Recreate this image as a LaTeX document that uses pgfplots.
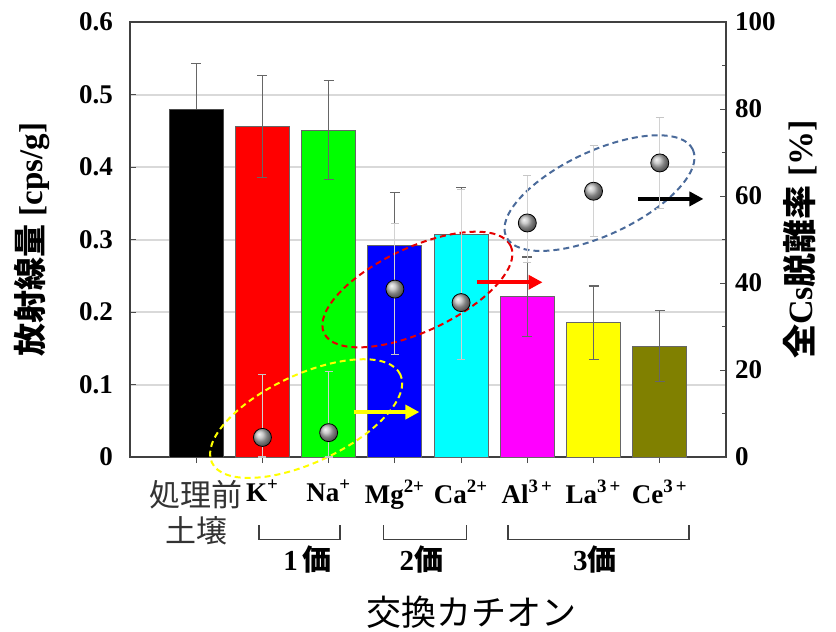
\documentclass[border=0pt]{standalone}
\usepackage{pgfplots}
\pgfplotsset{compat=1.18}
\usetikzlibrary{arrows.meta}
\usepackage{fontspec}
\setmainfont{Liberation Serif}
\newfontfamily\cjk{Noto Sans CJK JP}
\definecolor{olivebar}{HTML}{808000}
\definecolor{ellblue}{HTML}{4A6A9A}
\definecolor{pred}{HTML}{FF0000}
\definecolor{pgreen}{HTML}{00FF00}
\definecolor{pblue}{HTML}{0000FF}
\definecolor{pcyan}{HTML}{00FFFF}
\definecolor{pmagenta}{HTML}{FF00FF}
\definecolor{pyellow}{HTML}{FFFF00}
\begin{document}
\begin{tikzpicture}
\pgfplotsset{
  base/.style={width=298pt, height=217.5pt, scale only axis, xmin=-1, xmax=8, clip=false,
    /pgf/number format/assume math mode=true,
    ticklabel style={font=\bfseries\fontsize{13.5}{15}\selectfont},
    major tick length=3pt, minor tick length=2pt,
    tick style={black!70, line width=0.5pt},
  },
}
\begin{axis}[base, ymin=0, ymax=0.6, ytick={0,0.1,0.2,0.3,0.4,0.5,0.6},
  yticklabels={0,0.1,0.2,0.3,0.4,0.5,0.6},
  xtick pos=bottom, ytick pos=left,
  ymajorgrids, grid style={gray!30, line width=1pt},
  axis line style={black!75, line width=0.8pt},
  xtick={0,...,7},
  xticklabels={{\cjk\mdseries\color{black!80}\fontsize{15.5}{19}\selectfont\shortstack{処理前\\[1pt]土壌}},
    K\textsuperscript{+}, Na\textsuperscript{+}, Mg\textsuperscript{2+}, Ca\textsuperscript{2+},
    Al\textsuperscript{3\,+}, La\textsuperscript{3\,+}, Ce\textsuperscript{3\,+}},
  xticklabel style={anchor=north, yshift=-5pt, font=\bfseries\fontsize{13.5}{15}\selectfont},
  yticklabel style={xshift=-5pt},
  ybar, bar width=27pt, /pgf/bar shift=0pt,
  error bars/y explicit,
  error bars/error bar style={black!60, line width=0.6pt},
  error bars/error mark options={rotate=90, black!60, mark size=2.5pt, line width=0.6pt},
]
\addplot[fill=black, draw=black!70, error bars/y dir=plus] coordinates {(0,0.480) +- (0,0.063)};
\addplot[fill=pred, draw=black!60, error bars/y dir=both] coordinates {(1,0.456) +- (0,0.070)};
\addplot[fill=pgreen, draw=black!60, error bars/y dir=both] coordinates {(2,0.451) +- (0,0.068)};
\addplot[fill=pblue, draw=black!60, error bars/y dir=plus] coordinates {(3,0.292) +- (0,0.073)};
\addplot[fill=pcyan, draw=black!60, error bars/y dir=plus] coordinates {(4,0.307) +- (0,0.065)};
\addplot[fill=pmagenta, draw=black!60, error bars/y dir=both] coordinates {(5,0.221) +- (0,0.055)};
\addplot[fill=pyellow, draw=black!60, error bars/y dir=both] coordinates {(6,0.185) +- (0,0.051)};
\addplot[fill=olivebar, draw=black!60, error bars/y dir=both] coordinates {(7,0.153) +- (0,0.049)};
% brackets
\draw[black!75, line width=0.8pt] (axis cs:0.95,-0.094) -- (axis cs:0.95,-0.114) -- (axis cs:2.17,-0.114) -- (axis cs:2.17,-0.094);
\draw[black!75, line width=0.8pt] (axis cs:2.83,-0.094) -- (axis cs:2.83,-0.114) -- (axis cs:4.08,-0.114) -- (axis cs:4.08,-0.094);
\draw[black!75, line width=0.8pt] (axis cs:4.71,-0.094) -- (axis cs:4.71,-0.114) -- (axis cs:7.44,-0.114) -- (axis cs:7.44,-0.094);
\node[font=\bfseries\fontsize{14.5}{16}\selectfont] at (axis cs:1.68,-0.142) {1\,{\cjk 価}};
\node[font=\bfseries\fontsize{14.5}{16}\selectfont] at (axis cs:3.40,-0.142) {2{\cjk 価}};
\node[font=\bfseries\fontsize{14.5}{16}\selectfont] at (axis cs:6.02,-0.142) {3{\cjk 価}};
\node[font=\cjk\fontsize{17.5}{19}\selectfont] at (axis cs:4.15,-0.214) {交換カチオン};
% y labels
\node[rotate=90, font=\bfseries\fontsize{16.5}{18}\selectfont] at (axis cs:-2.48,0.3) {{\cjk 放射線量} [cps/g]};
\node[rotate=90, font=\bfseries\fontsize{17}{19}\selectfont] at (axis cs:9.12,0.30) {{\cjk 全}Cs{\cjk 脱離率} [\%]};
% ellipses
\draw[pyellow, densely dashed, line width=1pt, rotate around={25:(axis cs:1.66,0.053)}] (axis cs:1.66,0.053) ellipse [x radius=52pt, y radius=22pt];
\draw[red!90!black, densely dashed, line width=1pt, rotate around={25:(axis cs:3.34,0.231)}] (axis cs:3.34,0.231) ellipse [x radius=51.5pt, y radius=21pt];
\draw[ellblue, densely dashed, line width=1pt, rotate around={25:(axis cs:6.09,0.364)}] (axis cs:6.09,0.364) ellipse [x radius=51.5pt, y radius=21pt];
% arrows
\draw[-{Triangle[length=7pt,width=7pt]}, line width=2pt, pyellow] (axis cs:2.38,0.062) -- (axis cs:3.37,0.062);
\draw[-{Triangle[length=7pt,width=7pt]}, line width=2pt, pred] (axis cs:4.24,0.241) -- (axis cs:5.23,0.241);
\draw[-{Triangle[length=7pt,width=7pt]}, line width=2pt, black] (axis cs:6.67,0.356) -- (axis cs:7.66,0.356);
\end{axis}
\begin{axis}[base, ymin=0, ymax=100, ytick={0,20,40,60,80,100}, minor ytick={10,30,50,70,90},
  axis y line*=right, axis x line=none, ytick pos=right,
  axis line style={black!75, line width=0.8pt},
  yticklabel style={xshift=1pt},
  error bars/y dir=both, error bars/y explicit,
  error bars/error bar style={gray!35, line width=0.6pt},
  error bars/error mark options={rotate=90, gray!45, mark size=2pt, line width=0.6pt},
]
\addplot[only marks, mark=ball, mark size=4.5pt, ball color=gray!55] coordinates {
  (1,4.5) += (0,14.4) -= (0,4.5)
  (2,5.6) += (0,14.1) -= (0,5.6)
  (3,38.6) += (0,15.0) -= (0,15.0)
  (4,35.5) += (0,26.0) -= (0,13.0)
  (5,53.8) += (0,11.0) -= (0,9.0)
  (6,61.1) += (0,10.5) -= (0,10.5)
  (7,67.6) += (0,10.5) -= (0,10.5)
};
\end{axis}
\pgfresetboundingbox
\path (-65pt,-87.5pt) rectangle (353pt,228.5pt);
\end{tikzpicture}
\end{document}
